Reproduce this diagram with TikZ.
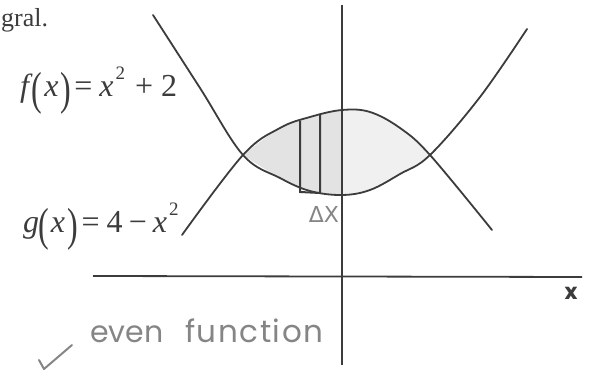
\documentclass[tikz,border=0pt]{standalone}
\usepackage{fontspec}
\usepackage{graphicx}
\setmainfont{Liberation Serif}
\newfontfamily\handfont{Poppins}
\newfontfamily\handwide[LetterSpace=5]{Poppins}
\newfontfamily\greekhand{DejaVu Sans}
\definecolor{ink}{HTML}{3C3C3C}
\definecolor{pencil}{HTML}{858585}
\tikzset{
  curve/.style={draw=ink, line width=1.8pt, line cap=round, line join=round},
  axisline/.style={draw=ink, line width=1.8pt},
  stripline/.style={draw=ink, line width=2pt},
  formula/.style={inner sep=0pt, text=ink, font=\fontsize{32}{36}\selectfont},
  hand/.style={inner sep=0pt, text=pencil, font=\handfont\fontsize{30}{34}\selectfont},
}
\newcommand{\bigparen}[1]{\raisebox{-0.24em}{\scalebox{1}[1.45]{#1}}}
\newcommand{\sqr}{\raisebox{0.55em}{\fontsize{19}{20}\selectfont 2}}
\begin{document}
\begin{tikzpicture}[x=1pt,y=-1pt]
\useasboundingbox (0,0) rectangle (592,371);
% shading of the region between the curves
\fill[black!11] plot[smooth, tension=0.6] coordinates {(243,155) (280,128) (310,117) (342,110)}
  -- plot[smooth, tension=0.6] coordinates {(342,195) (310,191) (280,178) (243,155)} -- cycle;
\fill[black!6] plot[smooth, tension=0.6] coordinates {(342,110) (370,112) (400,128) (430,155)}
  -- plot[smooth, tension=0.6] coordinates {(430,155) (400,174) (370,190) (342,195)} -- cycle;
% axes
\coordinate (xl) at (93,276);
\coordinate (xr) at (582,277);
\coordinate (yt) at (342,5);
\coordinate (yb) at (342,365);
\draw[axisline] (xl) -- (xr);
\draw[axisline] (yt) -- (yb);
% g(x) = 4 - x^2
\draw[curve] plot[smooth, tension=0.6] coordinates {(182,235) (243,155) (280,128) (310,117) (342,110) (370,112) (400,128) (430,155) (492,230)};
% f(x) = x^2 + 2
\draw[curve] plot[smooth, tension=0.6] coordinates {(153,15) (200,88) (243,155) (280,178) (310,191) (342,195) (370,190) (400,174) (430,155) (480,97) (527,29)};
% the strip
\coordinate (s1t) at (300,121);
\coordinate (s1b) at (300,192);
\coordinate (s2t) at (320,114);
\coordinate (s2b) at (320,193);
\draw[stripline] (s1t) -- (s1b) -- (s2b) -- (s2t);
% labels
\node[formula, font=\fontsize{26}{30}\selectfont, anchor=base west] (gral) at (1,27) {gral.};
\node[formula, anchor=base west] (flab) at (20,97) {\textit{f}\kern-1pt\bigparen{(}\kern2pt\textit{x}\kern2pt\bigparen{)}\kern3pt=\kern7pt\textit{x}\kern2pt\sqr\kern10pt+\kern8pt2};
\node[formula, anchor=base west] (glab) at (23,233) {\textit{g}\kern-1pt\bigparen{(}\kern2pt\textit{x}\kern2pt\bigparen{)}\kern4pt=\kern7pt4\kern6pt\textminus\kern6pt\textit{x}\kern2pt\sqr};
\node[inner sep=0pt, text=pencil, font=\greekhand\fontsize{22}{26}\selectfont, anchor=base] (dx) at (324,223) {ΔX};
\node[inner sep=0pt, text=ink, font=\handfont\bfseries\fontsize{22}{26}\selectfont, anchor=base] (xlab) at (571,300) {x};
\node[hand, anchor=base west] (even) at (90,343) {even};
\node[hand, font=\handwide\fontsize{31}{34}\selectfont, anchor=base west] (func) at (185,343) {function};
% check mark
\coordinate (c1) at (39,360);
\coordinate (c2) at (44,369);
\coordinate (c3) at (72,345);
\draw[pencil, line width=2pt, line cap=round, line join=round] (c1) -- (c2) -- (c3);
\end{tikzpicture}
\end{document}
